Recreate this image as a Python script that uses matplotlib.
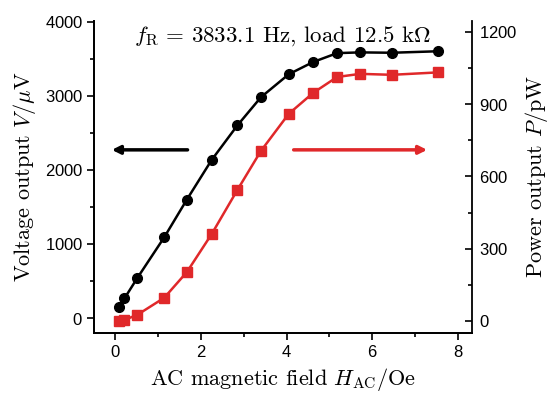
import matplotlib
matplotlib.use('Agg')
import matplotlib.pyplot as plt
from matplotlib.ticker import MultipleLocator

# AC field (Oe), voltage (uV) and power (pW)
h_ac = [0.09, 0.21, 0.51, 1.14, 1.67, 2.25, 2.85, 3.40, 4.05, 4.62, 5.18, 5.72, 6.46, 7.53]
voltage = [150, 265, 540, 1090, 1600, 2135, 2600, 2980, 3290, 3455, 3575, 3585, 3580, 3600]
power = [0, 4, 25, 96, 203, 361, 544, 706, 860, 947, 1013, 1026, 1022, 1032]

plt.rcParams['mathtext.fontset'] = 'cm'
plt.rcParams['axes.formatter.use_mathtext'] = True

red = '#e0282a'
serif = 'cmr10'

fig = plt.figure(figsize=(5.5, 3.94), dpi=100)
ax = fig.add_axes([0.171, 0.155, 0.687, 0.792])
ax2 = ax.twinx()

ax.plot(h_ac, voltage, color='black', marker='o', markersize=7, linewidth=1.8)
ax2.plot(h_ac, power, color=red, marker='s', markersize=6.5, linewidth=1.8)

ax.set_xlim(-0.5, 8.33)
ax.set_ylim(-200, 4010)
ax2.set_ylim(-50, 1246)

ax.xaxis.set_major_locator(MultipleLocator(2))
ax.xaxis.set_minor_locator(MultipleLocator(1))
ax.yaxis.set_major_locator(MultipleLocator(1000))
ax.yaxis.set_minor_locator(MultipleLocator(500))
ax2.yaxis.set_major_locator(MultipleLocator(300))
ax2.yaxis.set_minor_locator(MultipleLocator(150))

for a in (ax, ax2):
    a.spines['top'].set_visible(False)
    for s in a.spines.values():
        s.set_linewidth(1.3)
ax.spines['right'].set_visible(False)

ax.tick_params(which='both', direction='out', width=1.2, labelsize=12, pad=3)
ax.tick_params(which='major', length=5)
ax.tick_params(which='minor', length=3)
ax2.tick_params(which='both', direction='in', width=1.2, labelsize=12, pad=5)
ax2.tick_params(which='major', length=5)
ax2.tick_params(which='minor', length=3)
for lab in ax.get_xticklabels() + ax.get_yticklabels() + ax2.get_yticklabels():
    lab.set_family('Liberation Sans')

ax.set_xlabel(r'AC magnetic field $H_{\rm AC}$/Oe', fontsize=16, family=serif, labelpad=4)
ax.set_ylabel(r'Voltage output $V$/$\mu$V', fontsize=16, family=serif, labelpad=5)
ax2.set_ylabel(r'Power output $P$/pW', fontsize=16, family=serif, labelpad=4)

ax.text(0.5, 0.99, r'$f_{\rm R}\,=\,3833.1$ Hz, load 12.5 k$\Omega$',
        transform=ax.transAxes, ha='center', va='top', fontsize=16.5, family=serif)

# direction arrows
ax.annotate('', xy=(-0.15, 2270), xytext=(1.75, 2270),
            arrowprops=dict(arrowstyle='-|>', color='black', lw=2.5, mutation_scale=12))
ax.annotate('', xy=(7.35, 2270), xytext=(4.1, 2270),
            arrowprops=dict(arrowstyle='-|>', color=red, lw=2.5, mutation_scale=12))

fig.savefig('out.png', dpi=100)
